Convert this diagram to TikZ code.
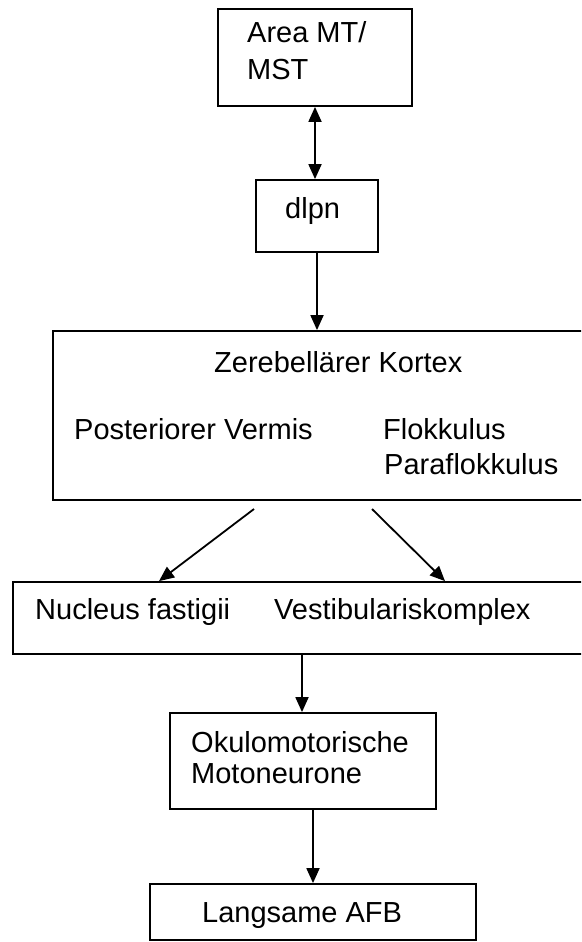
\documentclass[tikz,border=0pt]{standalone}
\usepackage{fontspec}
\setmainfont{Liberation Sans}
\usetikzlibrary{arrows.meta}
\tikzset{
  box/.style={draw=black, line width=1.8pt, rectangle, inner sep=0pt, anchor=center},
  lbl/.style={anchor=base west, inner sep=0pt, font=\fontsize{29}{34}\selectfont},
  arr/.style={line width=1.8pt, -{Triangle[length=15pt,width=13pt]}},
  darr/.style={line width=1.8pt, {Triangle[length=15pt,width=13pt]}-{Triangle[length=15pt,width=13pt]}}
}
\begin{document}
\begin{tikzpicture}[x=1pt,y=-1pt]
\useasboundingbox (0,0) rectangle (581,942);
\clip (0,0) rectangle (581,942);
\fill[white] (0,0) rectangle (581,942);
% boxes
\node[box, minimum width=194pt, minimum height=97pt] (area) at (315,57.5) {};
\node[box, minimum width=122pt, minimum height=72pt] (dlpn) at (317,216) {};
\node[box, minimum width=530pt, minimum height=169pt] (big) at (318,415.5) {};
\node[box, minimum width=578pt, minimum height=72pt] (nuc) at (302,618) {};
\node[box, minimum width=266pt, minimum height=96pt] (oku) at (303,761) {};
\node[box, minimum width=326pt, minimum height=56pt] (lang) at (313,912) {};
% texts
\node[lbl] (t1) at (247,43) {Area MT/};
\node[lbl] (t2) at (247,80) {MST};
\node[lbl] (t3) at (285,218) {dlpn};
\node[lbl] (t4) at (214,372) {Zerebellärer Kortex};
\node[lbl] (t5) at (74,439) {Posteriorer Vermis};
\node[lbl] (t6) at (383,439) {Flokkulus};
\node[lbl] (t7) at (384,474) {Paraflokkulus};
\node[lbl] (t8) at (35,619) {Nucleus fastigii};
\node[lbl] (t9) at (274,619) {Vestibulariskomplex};
\node[lbl] (t10) at (191,752) {Okulomotorische};
\node[lbl] (t11) at (191,783) {Motoneurone};
\node[lbl] (t12) at (202,922) {Langsame AFB};
% connectors
\coordinate (d1s) at (254,509);
\coordinate (d1x) at (159,0);
\coordinate (d2s) at (372,509);
\coordinate (d2x) at (445,0);
\draw[darr] (area.south) -- (area.south |- dlpn.north);
\draw[arr] (dlpn.south) -- (dlpn.south |- big.north);
\draw[arr] (d1s) -- (nuc.north -| d1x);
\draw[arr] (d2s) -- (nuc.north -| d2x);
\draw[arr] (nuc.south) -- (nuc.south |- oku.north);
\draw[arr] (lang.north |- oku.south) -- (lang.north);
\end{tikzpicture}
\end{document}
